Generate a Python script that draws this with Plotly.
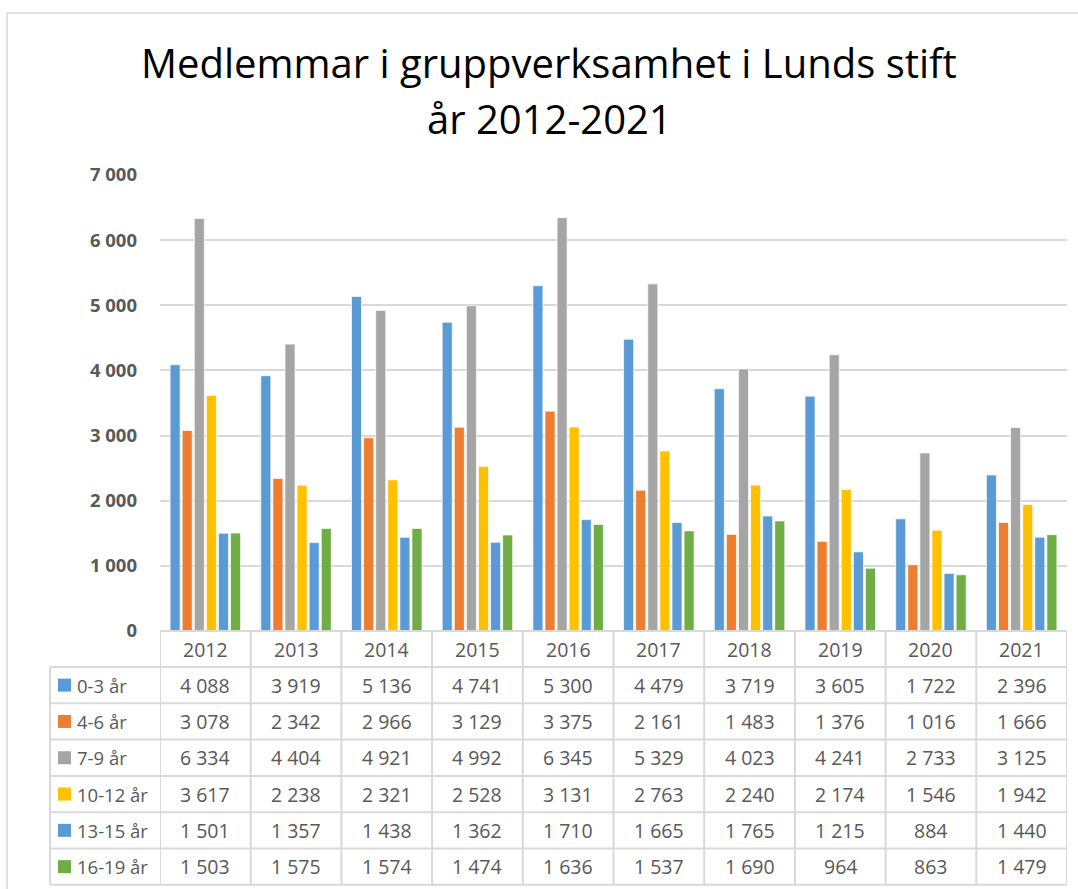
import plotly.graph_objects as go

years = [2012, 2013, 2014, 2015, 2016, 2017, 2018, 2019, 2020, 2021]
series_names = ["0-3 år", "4-6 år", "7-9 år", "10-12 år", "13-15 år", "16-19 år"]
v_0_3 = [4088, 3919, 5136, 4741, 5300, 4479, 3719, 3605, 1722, 2396]
v_4_6 = [3078, 2342, 2966, 3129, 3375, 2161, 1483, 1376, 1016, 1666]
v_7_9 = [6334, 4404, 4921, 4992, 6345, 5329, 4023, 4241, 2733, 3125]
v_10_12 = [3617, 2238, 2321, 2528, 3131, 2763, 2240, 2174, 1546, 1942]
v_13_15 = [1501, 1357, 1438, 1362, 1710, 1665, 1765, 1215, 884, 1440]
v_16_19 = [1503, 1575, 1574, 1474, 1636, 1537, 1690, 964, 863, 1479]
series_values = [v_0_3, v_4_6, v_7_9, v_10_12, v_13_15, v_16_19]
colors = ["#5B9BD5", "#ED7D31", "#A5A5A5", "#FFC000", "#5B9BD5", "#70AD47"]
y_ticks = [0, 1000, 2000, 3000, 4000, 5000, 6000, 7000]

title_lines = ["Medlemmar i gruppverksamhet i Lunds stift", "år 2012-2021"]

W, H = 1078, 889
L, R, T, B = 160, 1067, 175, 631
PW, PH = R - L, B - T

def px(x):
    return (x - L) / PW

def py(y):
    return (B - y) / PH

FONT = "Open Sans, Noto Sans, sans-serif"
TXT = "#595959"
GRID = "#D9D9D9"

def fmt(v):
    return f"{v:,}".replace(",", " ")

fig = go.Figure()
for name, vals, col in zip(series_names, series_values, colors):
    fig.add_trace(go.Bar(
        x=years, y=vals, name=name,
        marker=dict(color=col, line=dict(color="rgba(255,255,255,0.7)", width=1)),
        showlegend=False,
    ))

shapes = []
annotations = []

# chart frame
shapes.append(dict(type="rect", xref="paper", yref="paper",
                   x0=px(7), x1=px(1090), y0=py(900), y1=py(13),
                   line=dict(color=GRID, width=1.5), layer="below"))

# table geometry
row_edges = [631, 667, 703.3, 739.6, 775.9, 812.2, 848.5, 884.8]
lw = 2
shapes.append(dict(type="line", xref="paper", yref="paper",
                   x0=0, x1=1, y0=py(row_edges[0]), y1=py(row_edges[0]),
                   line=dict(color=GRID, width=lw)))
for ye in row_edges[1:]:
    shapes.append(dict(type="line", xref="paper", yref="paper",
                       x0=px(50), x1=1, y0=py(ye), y1=py(ye),
                       line=dict(color=GRID, width=lw)))
for i in range(len(years) + 1):
    xb = years[0] - 0.5 + i
    shapes.append(dict(type="line", xref="x", yref="paper",
                       x0=xb, x1=xb, y0=py(row_edges[0]), y1=py(row_edges[-1]),
                       line=dict(color=GRID, width=lw)))
shapes.append(dict(type="line", xref="paper", yref="paper",
                   x0=px(50), x1=px(50), y0=py(row_edges[1]), y1=py(row_edges[-1]),
                   line=dict(color=GRID, width=lw)))

NUMSIZE = 19.5
hc = (row_edges[0] + row_edges[1]) / 2
for yr in years:
    annotations.append(dict(x=yr, y=py(hc), xref="x", yref="paper", text=str(yr),
                            showarrow=False, font=dict(family=FONT, size=NUMSIZE, color=TXT),
                            xanchor="center", yanchor="middle"))

for r, (name, vals, col) in enumerate(zip(series_names, series_values, colors)):
    yc = (row_edges[r + 1] + row_edges[r + 2]) / 2
    shapes.append(dict(type="rect", xref="paper", yref="paper",
                       x0=px(58), x1=px(71), y0=py(yc + 6.5), y1=py(yc - 6.5),
                       fillcolor=col, line=dict(width=0)))
    annotations.append(dict(x=px(75), y=py(yc), xref="paper", yref="paper", text=name,
                            showarrow=False, font=dict(family=FONT, size=18.5, color=TXT),
                            xanchor="left", yanchor="middle"))
    for yr, v in zip(years, vals):
        annotations.append(dict(x=yr, y=py(yc), xref="x", yref="paper", text=fmt(v),
                                showarrow=False, font=dict(family=FONT, size=NUMSIZE, color=TXT),
                                xanchor="center", yanchor="middle"))

for txt, yc in zip(title_lines, [62, 118]):
    annotations.append(dict(x=px(549), y=py(yc), xref="paper", yref="paper", text=txt,
                            showarrow=False, font=dict(family=FONT, size=40, color="#000000"),
                            xanchor="center", yanchor="middle"))

fig.update_layout(
    width=W, height=H,
    margin=dict(l=L, r=W - R, t=T, b=H - B, pad=0),
    paper_bgcolor="white", plot_bgcolor="white",
    barmode="group", bargap=0.2, bargroupgap=0.17,
    shapes=shapes, annotations=annotations,
    xaxis=dict(type="linear", range=[years[0] - 0.5, years[-1] + 0.5],
               showticklabels=False, showgrid=False, zeroline=False, showline=False, ticks=""),
    yaxis=dict(range=[0, 7000], tickvals=y_ticks, ticktext=[fmt(t) for t in y_ticks],
               showgrid=True, gridcolor=GRID, gridwidth=1.5, zeroline=False, showline=False,
               ticks="", ticklabelstandoff=22,
               tickfont=dict(family=FONT, size=18.5, color=TXT, weight="bold")),
)

fig.write_html(
    "out.html",
    config={"displayModeBar": False},
    post_script="document.body.style.margin='0px';document.body.style.padding='0px';document.body.style.overflow='hidden';",
)
